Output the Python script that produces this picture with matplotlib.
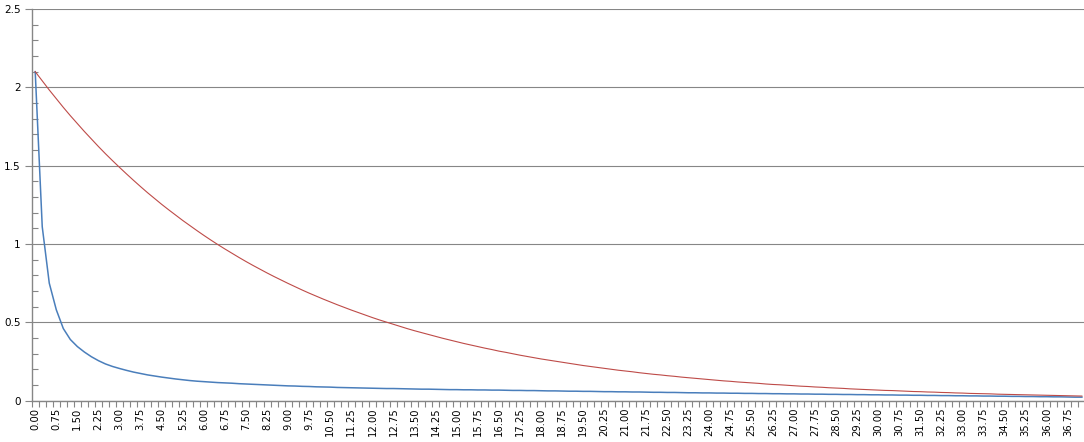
import matplotlib
matplotlib.use("Agg")
import matplotlib.pyplot as plt
import numpy as np
from matplotlib.ticker import FixedLocator, MultipleLocator, FuncFormatter

# category labels: 0.00 .. 37.25 in steps of 0.25
times = [i * 0.25 for i in range(150)]

# blue series (fast decay)
blue = [
    2.100, 1.110, 0.750, 0.580,
    0.460, 0.390, 0.345, 0.310,
    0.280, 0.255, 0.234, 0.218,
    0.205, 0.193, 0.182, 0.173,
    0.164, 0.157, 0.150, 0.144,
    0.138, 0.133, 0.128, 0.124,
    0.121, 0.118, 0.115, 0.113,
    0.111, 0.108, 0.106, 0.104,
    0.102, 0.100, 0.098, 0.096,
    0.094, 0.093, 0.091, 0.090,
    0.088, 0.087, 0.086, 0.084,
    0.083, 0.082, 0.081, 0.080,
    0.079, 0.078, 0.077, 0.077,
    0.076, 0.075, 0.074, 0.073,
    0.073, 0.072, 0.071, 0.070,
    0.070, 0.069, 0.069, 0.068,
    0.068, 0.067, 0.067, 0.066,
    0.065, 0.065, 0.064, 0.064,
    0.063, 0.062, 0.062, 0.061,
    0.060, 0.060, 0.059, 0.059,
    0.058, 0.057, 0.057, 0.056,
    0.056, 0.055, 0.055, 0.054,
    0.053, 0.053, 0.052, 0.052,
    0.051, 0.050, 0.050, 0.049,
    0.049, 0.048, 0.048, 0.047,
    0.047, 0.046, 0.046, 0.045,
    0.045, 0.044, 0.044, 0.043,
    0.043, 0.042, 0.042, 0.041,
    0.041, 0.040, 0.040, 0.039,
    0.039, 0.038, 0.038, 0.037,
    0.037, 0.036, 0.036, 0.035,
    0.035, 0.034, 0.034, 0.033,
    0.033, 0.032, 0.032, 0.031,
    0.031, 0.030, 0.030, 0.029,
    0.029, 0.028, 0.028, 0.027,
    0.027, 0.026, 0.026, 0.025,
    0.025, 0.024, 0.024, 0.023,
    0.022, 0.022,
]

# red series (slow decay)
red = [
    2.100, 2.041, 1.983, 1.927,
    1.872, 1.819, 1.768, 1.718,
    1.670, 1.622, 1.576, 1.532,
    1.489, 1.447, 1.406, 1.366,
    1.327, 1.290, 1.253, 1.218,
    1.184, 1.150, 1.118, 1.086,
    1.055, 1.025, 0.996, 0.968,
    0.941, 0.914, 0.888, 0.863,
    0.839, 0.815, 0.792, 0.770,
    0.748, 0.727, 0.706, 0.686,
    0.667, 0.648, 0.630, 0.612,
    0.595, 0.578, 0.562, 0.546,
    0.530, 0.515, 0.501, 0.487,
    0.473, 0.459, 0.446, 0.434,
    0.422, 0.410, 0.398, 0.387,
    0.376, 0.365, 0.355, 0.345,
    0.335, 0.326, 0.316, 0.308,
    0.299, 0.290, 0.282, 0.274,
    0.266, 0.259, 0.252, 0.245,
    0.238, 0.231, 0.224, 0.218,
    0.212, 0.206, 0.200, 0.194,
    0.189, 0.184, 0.178, 0.173,
    0.168, 0.164, 0.159, 0.155,
    0.150, 0.146, 0.142, 0.138,
    0.134, 0.130, 0.126, 0.123,
    0.119, 0.116, 0.113, 0.110,
    0.106, 0.103, 0.101, 0.098,
    0.095, 0.092, 0.090, 0.087,
    0.085, 0.082, 0.080, 0.078,
    0.075, 0.073, 0.071, 0.069,
    0.067, 0.065, 0.064, 0.062,
    0.060, 0.058, 0.057, 0.055,
    0.054, 0.052, 0.051, 0.049,
    0.048, 0.046, 0.045, 0.044,
    0.043, 0.041, 0.040, 0.039,
    0.038, 0.037, 0.036, 0.035,
    0.034, 0.033, 0.032, 0.031,
    0.030, 0.029,
]

labels = [f"{t:.2f}" for t in times]

grey = "#868686"
plt.rcParams["font.family"] = "DejaVu Sans"

fig = plt.figure(figsize=(10.84, 4.42), dpi=100)
ax = fig.add_axes([31.7 / 1084, 1 - 400.6 / 442, 1 - 31.7 / 1084, (400.6 - 9) / 442])

x = np.arange(len(times))
ax.plot(x, blue, color="#4A7EBB", lw=1.1)
ax.plot(x, red, color="#BE4B48", lw=0.8)

ax.set_ylim(0, 2.5)
ax.set_xlim(-0.5, 149.3)

# y axis: major every 0.5 with grid, minor ticks every 0.1 inside
ax.yaxis.set_major_locator(MultipleLocator(0.5))
ax.yaxis.set_minor_locator(MultipleLocator(0.1))
ax.yaxis.set_major_formatter(FuncFormatter(lambda v, p: f"{v:g}"))
ax.tick_params(axis="y", which="major", direction="out", length=5, width=0.8,
               color=grey, labelsize=7.5, pad=3)
ax.tick_params(axis="y", which="minor", direction="in", length=4, width=0.8, color=grey)
ax.grid(axis="y", which="major", color=grey, lw=0.8)
ax.set_axisbelow(True)

# x axis: tick marks between categories, label every third category
ax.xaxis.set_minor_locator(FixedLocator(np.arange(len(times) + 1) - 0.5))
ax.xaxis.set_major_locator(FixedLocator(x[:148:3]))
ax.set_xticklabels(labels[:148:3], rotation=90)
ax.tick_params(axis="x", which="major", length=0, labelsize=7.2, pad=5)
ax.tick_params(axis="x", which="minor", direction="out", length=4, width=0.8, color=grey)

for s in ["top", "right"]:
    ax.spines[s].set_visible(False)
for s in ["left", "bottom"]:
    ax.spines[s].set_color(grey)
    ax.spines[s].set_linewidth(1.0)

fig.savefig("out.png", dpi=100)
